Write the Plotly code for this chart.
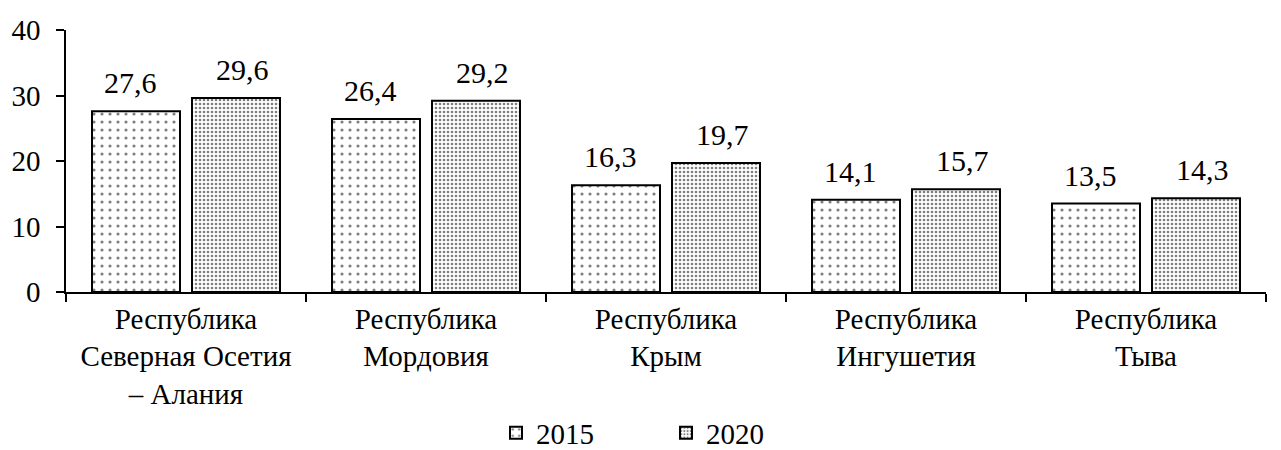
import plotly.graph_objects as go

categories = ["Республика<br>Северная Осетия<br>– Алания", "Республика<br>Мордовия",
              "Республика<br>Крым", "Республика<br>Ингушетия", "Республика<br>Тыва"]
series_names = ["2015", "2020"]
values_2015 = [27.6, 26.4, 16.3, 14.1, 13.5]
values_2020 = [29.6, 29.2, 19.7, 15.7, 14.3]
y_ticks = [0, 10, 20, 30, 40]

FONT = "Liberation Serif"
FS = 29

fig = go.Figure()
fig.add_trace(go.Bar(
    name=series_names[0], x=categories, y=values_2015,
    marker=dict(color="white", line=dict(color="black", width=2),
                pattern=dict(shape=".", size=8, solidity=0.12, fgcolor="black",
                             bgcolor="white", fillmode="overlay")),
))
fig.add_trace(go.Bar(
    name=series_names[1], x=categories, y=values_2020,
    marker=dict(color="white", line=dict(color="black", width=2),
                pattern=dict(shape=".", size=4, solidity=0.35, fgcolor="black",
                             bgcolor="white", fillmode="overlay")),
))

annotations = []
for vals, shift in ((values_2015, -56), (values_2020, 56)):
    for c, v in zip(categories, vals):
        annotations.append(dict(
            x=c, y=v, xref="x", yref="y", xshift=shift, yshift=10,
            text=f"{v:.1f}".replace(".", ","), showarrow=False,
            yanchor="bottom", font=dict(family=FONT, size=30, color="black"),
        ))

fig.update_layout(
    width=1273, height=442,
    margin=dict(l=58, r=15, t=22, b=158, autoexpand=False),
    paper_bgcolor="white", plot_bgcolor="white",
    font=dict(family=FONT, size=FS, color="black"),
    barmode="group", bargap=0.1667, bargroupgap=0.12,
    showlegend=True,
    legend=dict(orientation="h", x=0.5, xanchor="center", y=-0.44, yanchor="top",
                font=dict(family=FONT, size=FS), entrywidth=125, itemwidth=30),
    annotations=annotations,
)
fig.update_xaxes(showline=True, linecolor="black", linewidth=1.5, automargin=False,
                 ticks="outside", tickson="boundaries", ticklen=8, tickcolor="black",
                 tickwidth=1.5, showgrid=False)
fig.update_yaxes(range=[0, 40], tickvals=y_ticks, showline=True, linecolor="black",
                 linewidth=1.5, ticks="outside", ticklen=8, tickcolor="black", automargin=False,
                 tickwidth=1.5, showgrid=False, zeroline=False, ticklabelstandoff=10)

fig.write_html("out.html")
